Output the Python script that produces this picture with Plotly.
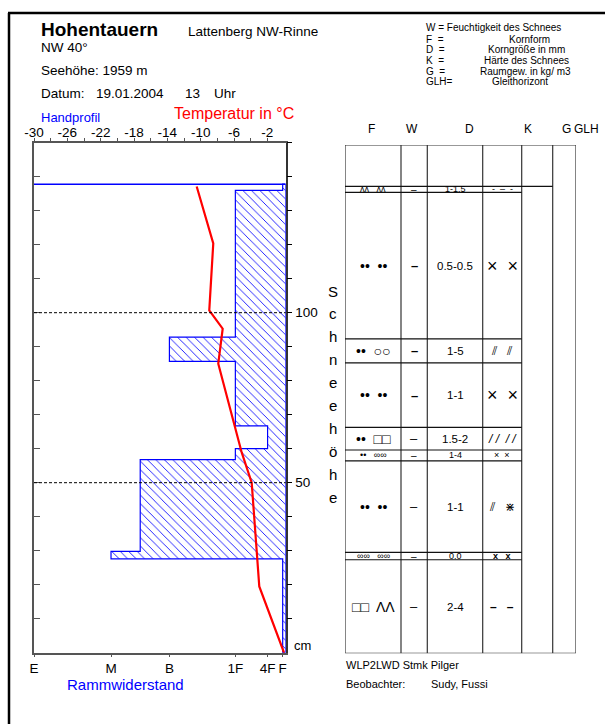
import plotly.graph_objects as go

W, H = 605, 724


def px(x):
    return x / W


def py(y):
    return 1 - y / H


# ---------------- data ----------------
SNOW_HEIGHT = 137.8
LAYER_TOP = [137.8, 136.0, 92.8, 85.7, 66.7, 60.0, 56.8, 29.8, 27.6]
LAYER_BOTTOM = [136.0, 92.8, 85.7, 66.7, 60.0, 56.8, 29.8, 27.6, 0.0]
HARDNESS_LABELS = ["E", "M", "B", "1F", "4F", "F"]
HARDNESS_POS = [100, 69.4, 46.2, 20.0, 7.2, 1.2]
LAYER_HARDNESS = [1.2, 20.0, 46.2, 20.0, 7.2, 20.0, 57.8, 69.4, 1.2]

TEMP_HEIGHT = [137.1, 122.8, 120.4, 100.7, 95.3, 85.0, 58.9, 50.0, 39.2, 27.6, 19.5, 0.0]
TEMP_VALUE = [-10.48, -8.76, -8.49, -8.97, -7.36, -7.89, -5.08, -3.88, -3.57, -3.28, -2.97, 0.0]

TEMP_TICKS = [-30, -26, -22, -18, -14, -10, -6, -2]
HEIGHT_LABELS = {50: "50", 100: "100"}

F_SYMBOLS = ["ʌʌ   ʌʌ", "••  ••", "••  ○○", "••  ••", "••  □□",
             "••   ∞∞", "••  ••", "∞∞   ∞∞", "□□  ΛΛ"]
W_SYMBOLS = ["–", "<b>–</b>", "<b>–</b>", "<b>–</b>", "–", "–", "–", "–", "–"]
D_VALUES = ["1-1.5", "0.5-0.5", "1-5", "1-1", "1.5-2", "1-4", "1-1", "0.0", "2-4"]
K_SYMBOLS = ["-  –  -", "×  ×", "⫽   ⫽", "×  ×", "<i>/ /  / /</i>", "×  ×", "⫽   ⋇",
             "<b>x   x</b>", "<b>–   –</b>"]

COLUMN_HEADERS = ["F", "W", "D", "K", "G", "GLH"]

LEGEND_KEYS = ["F  =", "D  =", "K  =", "G  =", "GLH="]
LEGEND_TEXT = ["Kornform", "Korngröße in mm", "Härte des Schnees", "Raumgew. in kg/ m3", "Gleithorizont"]

# ---------------- geometry ----------------
PLOT_L, PLOT_R, PLOT_T, PLOT_B = 34, 285.7, 142.7, 652.7
TAB_L, TAB_R, TAB_T, TAB_B = 345, 576, 145, 653.3
COL_EDGES = [345, 401, 427.3, 482.7, 521.7, 552.7, 576]

FONT = "Liberation Sans, Arial, sans-serif"
AX = "#555555"
BLUE = "#0000ff"

fig = go.Figure()

# hand profile polygon (step outline)
hx, hy = [0], [LAYER_TOP[0]]
for t, b, h in zip(LAYER_TOP, LAYER_BOTTOM, LAYER_HARDNESS):
    hx += [h, h]
    hy += [t, b]
hx += [0, 0]
hy += [0, LAYER_TOP[0]]
fig.add_trace(go.Scatter(
    x=hx, y=hy, xaxis="x", yaxis="y", mode="lines", fill="toself",
    line=dict(color=BLUE, width=1.2),
    fillcolor="rgba(0,0,0,0)",
    fillpattern=dict(shape="\\", fgcolor=BLUE, bgcolor="white", size=6, solidity=0.14),
    hoverinfo="skip"))

# snow surface line
fig.add_trace(go.Scatter(x=[HARDNESS_POS[0], 0], y=[SNOW_HEIGHT, SNOW_HEIGHT],
                         xaxis="x", yaxis="y", mode="lines",
                         line=dict(color=BLUE, width=1.5), hoverinfo="skip"))

# temperature profile
fig.add_trace(go.Scatter(x=TEMP_VALUE, y=TEMP_HEIGHT, xaxis="x2", yaxis="y",
                         mode="lines", line=dict(color="#ff0000", width=2.2),
                         hoverinfo="skip"))

# invisible traces for secondary axes
fig.add_trace(go.Scatter(x=[None], y=[None], xaxis="x", yaxis="y2", hoverinfo="skip"))
fig.add_trace(go.Scatter(x=[None], y=[None], xaxis="x3", yaxis="y3", hoverinfo="skip"))

ydom = [py(PLOT_B), py(PLOT_T)]
tdom = [py(TAB_B), py(TAB_T)]

temp_tickvals = list(range(-30, 0, 2))
temp_ticktext = [str(v) if v in TEMP_TICKS else "" for v in temp_tickvals]

fig.update_layout(
    template="none",
    width=W, height=H, margin=dict(l=0, r=0, t=0, b=0, pad=0, autoexpand=False),
    paper_bgcolor="white", plot_bgcolor="white", showlegend=False,
    font=dict(family=FONT, color="black"),
    xaxis=dict(domain=[px(PLOT_L), px(PLOT_R)], range=[HARDNESS_POS[0], 0],
               tickvals=HARDNESS_POS, ticktext=HARDNESS_LABELS, ticks="outside",
               ticklen=3, tickcolor=AX, showgrid=False, zeroline=False,
               showline=True, linecolor=AX, linewidth=1.5, automargin=False,
               ticklabelstandoff=-1,
               tickfont=dict(size=13.5, color="black"), anchor="y"),
    xaxis2=dict(domain=[px(PLOT_L), px(PLOT_R)], range=[-30, 0.2], overlaying="x",
                side="top", anchor="y", tickvals=temp_tickvals, ticktext=temp_ticktext,
                ticks="outside", ticklen=3, tickcolor=AX, showgrid=False,
                zeroline=False, showline=True, linecolor=AX, linewidth=1.5,
                ticklabelstandoff=-4,
                automargin=False, tickfont=dict(size=13.5, color="black")),
    yaxis=dict(domain=ydom, range=[0, 150], tickvals=list(range(0, 151, 10)),
               showticklabels=False, ticks="inside", ticklen=6, tickcolor=AX,
               showgrid=False, zeroline=False, showline=True, linecolor=AX,
               linewidth=1.5, anchor="x", automargin=False),
    yaxis2=dict(domain=ydom, range=[0, 150], overlaying="y", side="right",
                tickvals=list(range(10, 151, 10)),
                ticktext=[HEIGHT_LABELS.get(v, "") for v in range(10, 151, 10)],
                ticks="outside", ticklen=5, tickcolor="black", showgrid=False,
                zeroline=False, showline=True, linecolor="#333", linewidth=1.5,
                automargin=False, tickfont=dict(size=13.5, color="black"), anchor="x"),
    xaxis3=dict(domain=[px(TAB_L), px(TAB_R)], range=[TAB_L, TAB_R], visible=False,
                anchor="y3", automargin=False),
    yaxis3=dict(domain=tdom, range=[0, 150], visible=False, anchor="x3",
                automargin=False),
)

shapes = []
# dashed lines at 50 / 100 cm
for v in HEIGHT_LABELS:
    shapes.append(dict(type="line", xref="x domain", yref="y", x0=0, x1=1, y0=v, y1=v,
                       line=dict(color="black", width=1, dash="3px,2px"), layer="above"))
# table frame
TL = "#333333"
shapes.append(dict(type="rect", xref="x3", yref="y3", x0=TAB_L, x1=TAB_R, y0=0, y1=150,
                   line=dict(color=TL, width=1.2)))
for cx in COL_EDGES[1:-1]:
    shapes.append(dict(type="line", xref="x3", yref="y3", x0=cx, x1=cx, y0=0, y1=150,
                       line=dict(color=TL, width=1.2)))
for i, t in enumerate(LAYER_TOP):
    x1 = COL_EDGES[5] if i == 0 else COL_EDGES[4]
    shapes.append(dict(type="line", xref="x3", yref="y3", x0=TAB_L, x1=x1, y0=t, y1=t,
                       line=dict(color="#111", width=1.2)))
# outer page frame
shapes.append(dict(type="line", xref="paper", yref="paper", x0=px(8), x1=1, y0=py(13),
                   y1=py(13), line=dict(color="black", width=2.5)))
shapes.append(dict(type="line", xref="paper", yref="paper", x0=px(9), x1=px(9), y0=py(13),
                   y1=0, line=dict(color="black", width=2.5)))
fig.update_layout(shapes=shapes)

ann = []


def text(x, y, s, size=13, color="black", anchor="left", bold=False, **kw):
    if bold:
        s = "<b>" + s + "</b>"
    ann.append(dict(x=px(x), y=py(y), xref="paper", yref="paper", text=s,
                    showarrow=False, xanchor=anchor, yanchor="middle",
                    font=dict(size=size, color=color, family=FONT), **kw))


text(39, 30, "Hohentauern", size=19, bold=True)
text(186, 31, "Lattenberg NW-Rinne", size=13.5)
text(39, 47.5, "NW 40°", size=13.5)
text(39, 70.5, "Seehöhe: 1959 m", size=13.5)
text(39, 94, "Datum:", size=13.5)
text(94, 94, "19.01.2004", size=13.5)
text(183, 94, "13", size=13.5)
text(212, 94, "Uhr", size=13.5)
text(39, 117.5, "Handprofil", size=13, color=BLUE)
text(172, 114, "Temperatur in °C", size=16, color="#ff0000")
text(65, 684, "Rammwiderstand", size=15, color=BLUE)
text(292, 645, "cm", size=13)
text(344, 665, "WLP2LWD Stmk Pilger", size=11)
text(344, 684, "Beobachter:", size=11)
text(429, 684, "Sudy, Fussi", size=11)

# legend
text(424, 27.7, "W = Feuchtigkeit des Schnees", size=10)
leg_y = [39, 50, 61, 71.5, 81.5]
leg_cx = [529, 526.5, 526, 525, 520]
for k, d, yy, cx in zip(LEGEND_KEYS, LEGEND_TEXT, leg_y, leg_cx):
    text(424, yy, k, size=10)
    text(cx, yy, d, size=10, anchor="center")

# column headers
for hdr, hx_ in zip(COLUMN_HEADERS, [371.5, 411.5, 469, 528, 566, 586.5]):
    text(hx_, 128.5, hdr, size=12, anchor="center")

# vertical "Schneehöhe"
for i, ch in enumerate("Schneehöhe"):
    text(333, 291 + i * 22.9, ch, size=15, anchor="center")

# table contents
centers = [(c0 + c1) / 2 for c0, c1 in zip(COL_EDGES[:-1], COL_EDGES[1:])]
for i, (t, b) in enumerate(zip(LAYER_TOP, LAYER_BOTTOM)):
    ym = (t + b) / 2
    thin = (t - b) < 4
    cells = [F_SYMBOLS[i], W_SYMBOLS[i], D_VALUES[i], K_SYMBOLS[i]]
    sizes = [9, 10, 9, 9] if thin else [14, 13, 11.5, 12]
    if not thin and "×" in K_SYMBOLS[i]:
        sizes[3] = 18
    for col in range(4):
        ann.append(dict(x=centers[col], y=ym, xref="x3", yref="y3", text=cells[col],
                        showarrow=False, xanchor="center", yanchor="middle",
                        font=dict(size=sizes[col], color="black", family=FONT)))

fig.update_layout(annotations=ann)

fig.write_html("out.html", include_plotlyjs=True, config={"displayModeBar": False},
               post_script="document.body.style.margin='0';document.body.style.overflow='hidden';")
